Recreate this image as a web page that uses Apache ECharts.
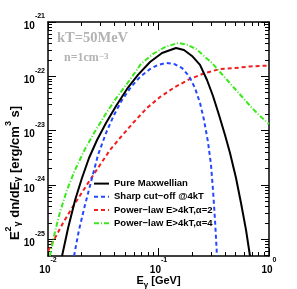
<!DOCTYPE html>
<html><head><meta charset="utf-8">
<script src="https://cdn.jsdelivr.net/npm/echarts@6/dist/echarts.min.js"></script>
<style>html,body{margin:0;padding:0;background:#fff}#c{width:297px;height:289px}</style>
</head><body><div id="c"></div>
<script>
// ---- data (E in GeV, E^2 dn/dE in erg/cm^3/s) ----
const seriesNames = ['Pure Maxwellian', 'Sharp cut\u2212off @4kT', 'Power\u2212law E>4kT,\u03b1=2', 'Power\u2212law E>4kT,\u03b1=4'];
const maxwE = [0.0134, 0.0152, 0.0176, 0.0203, 0.0235, 0.0278, 0.0335, 0.0413, 0.0519, 0.0652, 0.0838, 0.1076, 0.1440, 0.1701, 0.2010, 0.2375, 0.2748, 0.3113, 0.3528, 0.3998, 0.4437, 0.5028, 0.5580, 0.6193, 0.6731];
const maxwY = [4.90e-26, 1.61e-25, 5.27e-25, 1.34e-24, 3.13e-24, 6.71e-24, 1.38e-23, 2.84e-23, 5.84e-23, 1.06e-22, 1.83e-22, 2.69e-22, 3.32e-22, 3.05e-22, 2.37e-22, 1.62e-22, 8.55e-23, 4.34e-23, 1.94e-23, 8.30e-24, 3.87e-24, 1.34e-24, 4.64e-25, 1.48e-25, 4.90e-26];
const cutE = [0.01719, 0.01908, 0.02162, 0.02449, 0.02835, 0.0335, 0.03957, 0.04674, 0.05637, 0.06801, 0.0838, 0.0990, 0.1169, 0.1381, 0.1632, 0.1888, 0.2139, 0.2375, 0.2581, 0.2805, 0.2986, 0.3113, 0.3245, 0.3383];
const cutY = [4.90e-26, 1.48e-25, 4.26e-25, 1.13e-24, 3.55e-24, 9.03e-24, 1.94e-23, 3.66e-23, 6.35e-23, 9.71e-23, 1.36e-22, 1.62e-22, 1.76e-22, 1.69e-22, 1.42e-22, 1.01e-22, 6.09e-23, 3.22e-23, 1.57e-23, 6.17e-24, 2.33e-24, 8.06e-25, 2.26e-25, 4.90e-26];
const pl2E = [0.0100, 0.01157, 0.01367, 0.01649, 0.01989, 0.02399, 0.02955, 0.03640, 0.04482, 0.05876, 0.07868, 0.1032, 0.1410, 0.1928, 0.2635, 0.3603, 0.4924, 0.6731, 1.0];
const pl2Y = [6.06e-26, 1.05e-25, 1.99e-25, 3.75e-25, 6.80e-25, 1.23e-24, 2.33e-24, 4.39e-24, 7.31e-24, 1.38e-23, 2.61e-23, 4.16e-23, 6.35e-23, 8.92e-23, 1.15e-22, 1.36e-22, 1.42e-22, 1.52e-22, 1.58e-22];
const pl4E = [0.01042, 0.01133, 0.01284, 0.01486, 0.01755, 0.02118, 0.02608, 0.03281, 0.04211, 0.05408, 0.06943, 0.08918, 0.1145, 0.1502, 0.1849, 0.2185, 0.2581, 0.3050, 0.3603, 0.4256, 0.5028, 0.5939, 0.7017, 0.8290, 1.0];
const pl4Y = [4.90e-26, 1.15e-25, 3.17e-25, 8.06e-25, 1.88e-24, 4.21e-24, 9.03e-24, 1.94e-23, 4.16e-23, 8.19e-23, 1.69e-22, 2.58e-22, 3.46e-22, 4.11e-22, 3.77e-22, 3.18e-22, 2.37e-22, 1.76e-22, 1.20e-22, 8.19e-23, 5.59e-23, 3.82e-23, 2.61e-23, 1.86e-23, 1.32e-23];

// ---- axes ----
const xMin = 0.01, xMax = 1;
const yMin = 4.9e-26, yMax = 1e-21;
const xMajorTicks = [0.01, 0.1, 1];
const yMajorTicks = [1e-25, 1e-24, 1e-23, 1e-22, 1e-21];
const minorMultipliers = [2, 3, 4, 5, 6, 7, 8, 9];
const xDecades = [0.01, 0.1];
const yDecadeExps = [-26, -25, -24, -23, -22];
const annotation1 = 'kT=50MeV';
const annotation2 = 'n=1cm{s|\u22123}';
const xTitle = '{b|E}{sb|\u03b3}{b| [GeV]}';
const yTitle = '{b|E}{sp|2}{sb|\u03b3}{b| dn/dE}{sb|\u03b3}{b| [erg/cm}{sp|3}{b| s]}';

// log axis works in scaled units to avoid rounding of tiny values
const EXP_OFF = 26;
const SCALE = Math.pow(10, EXP_OFF);
const ys = v => v * SCALE;

const xMinor = [];
xDecades.forEach(d => minorMultipliers.forEach(m => xMinor.push(+(d * m).toPrecision(6))));
const yMinor = [];
yDecadeExps.forEach(e => minorMultipliers.forEach(m => {
  const v = m * Math.pow(10, e + EXP_OFF);
  if (v > ys(yMin) && v < ys(yMax)) yMinor.push(v);
}));

const FONT = 'Liberation Sans';
const supRich = {
  b: {fontSize: 10, fontWeight: 'bold', fontFamily: FONT, color: '#000', lineHeight: 18, verticalAlign: 'bottom'},
  s: {fontSize: 7, fontWeight: 'bold', fontFamily: FONT, color: '#000', lineHeight: 9, verticalAlign: 'top'}
};

function baseAxis(pos, min, max) {
  return {
    type: 'log', logBase: 10, position: pos, min: min, max: max, gridIndex: 0,
    splitLine: {show: false}, minorTick: {show: false}, minorSplitLine: {show: false},
    axisLine: {show: false}, axisTick: {show: false}, axisLabel: {show: false}
  };
}
function majorAxis(pos, min, max, ticks, withLabels, expFmt) {
  const a = baseAxis(pos, min, max);
  a.axisLine = {show: true, onZero: false, lineStyle: {color: '#000', width: 1.5}};
  a.axisTick = {show: true, inside: true, length: 8, customValues: ticks, lineStyle: {color: '#000', width: 1}};
  if (withLabels) {
    a.axisLabel = {
      show: true, customValues: ticks, margin: (pos === 'left') ? 3 : 1,
      formatter: v => '{b|10}{s|' + expFmt(v) + '}', rich: supRich
    };
  }
  return a;
}
function minorAxis(pos, min, max, ticks) {
  const a = baseAxis(pos, min, max);
  a.axisTick = {show: true, inside: true, length: 4, customValues: ticks, lineStyle: {color: '#000', width: 1}};
  return a;
}

const xExp = v => String(Math.round(Math.log10(v)));
const yExp = v => String(Math.round(Math.log10(v)) - EXP_OFF);

const xb = majorAxis('bottom', xMin, xMax, xMajorTicks, true, xExp);
xb.name = xTitle;
xb.nameLocation = 'middle';
xb.nameGap = 19;
xb.nameMoveOverlap = false;
xb.nameTextStyle = {rich: {
  b: {fontSize: 11, fontWeight: 'bold', fontFamily: FONT, color: '#000', lineHeight: 14, verticalAlign: 'top'},
  sb: {fontSize: 8, fontWeight: 'bold', fontFamily: FONT, color: '#000', lineHeight: 8, verticalAlign: 'bottom'}
}};

const option = {
  animation: false,
  backgroundColor: '#fff',
  grid: {left: 48, top: 22, right: 28, bottom: 33, containLabel: false, outerBoundsMode: 'none'},
  xAxis: [
    xb,
    minorAxis('bottom', xMin, xMax, xMinor),
    majorAxis('top', xMin, xMax, xMajorTicks, false),
    minorAxis('top', xMin, xMax, xMinor)
  ],
  yAxis: [
    majorAxis('left', ys(yMin), ys(yMax), yMajorTicks.map(ys), true, yExp),
    minorAxis('left', ys(yMin), ys(yMax), yMinor),
    majorAxis('right', ys(yMin), ys(yMax), yMajorTicks.map(ys), false),
    minorAxis('right', ys(yMin), ys(yMax), yMinor)
  ],
  legend: {
    orient: 'vertical', left: 93, top: 178, padding: 0,
    itemWidth: 15, itemHeight: 14, itemGap: 2,
    itemStyle: {color: 'rgba(0,0,0,0)', opacity: 0, borderWidth: 0},
    textStyle: {fontSize: 9.5, fontWeight: 'bold', fontFamily: FONT, color: '#000'},
    data: seriesNames
  },
  graphic: [
    {type: 'text', left: 57, top: 31, silent: true,
     style: {text: annotation1, fontSize: 14.5, fontWeight: 'bold', fontFamily: 'Liberation Serif', fill: '#b3b3b3'}},
    {type: 'text', left: 64, top: 52, silent: true,
     style: {text: annotation2, fontSize: 12, fontWeight: 'bold', fontFamily: 'Liberation Serif', fill: '#b3b3b3',
       rich: {s: {fontSize: 9, fontWeight: 'bold', fontFamily: 'Liberation Serif', fill: '#b3b3b3', verticalAlign: 'top', lineHeight: 8}}}},
    {type: 'text', x: 13, y: 173, rotation: Math.PI / 2, silent: true,
     style: {text: yTitle, align: 'center', verticalAlign: 'middle', rich: {
       b: {fontSize: 13, fontWeight: 'bold', fontFamily: FONT, fill: '#000', lineHeight: 18, verticalAlign: 'bottom'},
       sp: {fontSize: 9, fontWeight: 'bold', fontFamily: FONT, fill: '#000', lineHeight: 10, verticalAlign: 'top'},
       sb: {fontSize: 9, fontWeight: 'bold', fontFamily: FONT, fill: '#000', lineHeight: 9, verticalAlign: 'bottom'}
     }}}
  ],
  series: [
    {name: seriesNames[0], type: 'line', symbol: 'none', smooth: false, z: 5,
     data: maxwE.map((e, i) => [e, ys(maxwY[i])]),
     lineStyle: {color: '#000', width: 2, type: 'solid'}},
    {name: seriesNames[1], type: 'line', symbol: 'none', smooth: false, z: 4,
     data: cutE.map((e, i) => [e, ys(cutY[i])]),
     lineStyle: {color: '#2448ff', width: 2, type: [4, 3]}, itemStyle: {color: '#2448ff'}},
    {name: seriesNames[2], type: 'line', symbol: 'none', smooth: false, z: 3,
     data: pl2E.map((e, i) => [e, ys(pl2Y[i])]),
     lineStyle: {color: '#f21d1d', width: 2, type: [4, 3]}, itemStyle: {color: '#f21d1d'}},
    {name: seriesNames[3], type: 'line', symbol: 'none', smooth: false, z: 3,
     data: pl4E.map((e, i) => [e, ys(pl4Y[i])]),
     lineStyle: {color: '#3ce81c', width: 2, type: [5, 2, 1, 2]}, itemStyle: {color: '#3ce81c'}}
  ]
};
const chart = echarts.init(document.getElementById('c'), null, {renderer: 'canvas', width: 297, height: 289});
chart.setOption(option);
</script>
</body></html>
